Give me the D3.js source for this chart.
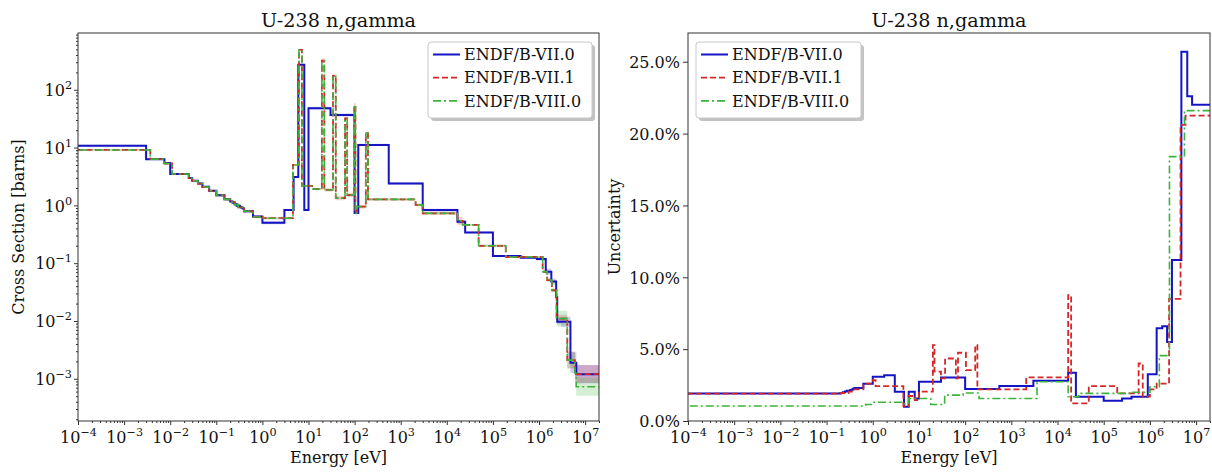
<!DOCTYPE html>
<html>
<head>
<meta charset="utf-8">
<script src="https://cdn.jsdelivr.net/npm/d3@7"></script>
<style>
  body { margin: 0; background: #fff; }
  svg text { font-family: "DejaVu Serif", serif; fill: #111; }
</style>
</head>
<body>
<div id="chart"></div>
<script>
// U-238 (n,gamma): group cross sections and relative uncertainties for three libraries

const seriesNames = ['ENDF/B-VII.0', 'ENDF/B-VII.1', 'ENDF/B-VIII.0'];
const chartTitle = 'U-238 n,gamma';

// cross section group edges [eV]
const xsEdges70 = [1e-5, 3e-3, 7.5e-3, 1e-2, 2.53e-2, 3e-2, 4e-2, 5e-2, 7e-2, 0.1, 0.15, 0.2, 0.225,
  0.25, 0.275, 0.325, 0.35, 0.375, 0.4, 0.625, 1.0, 1.77, 3.0, 4.75, 6.0, 8.1, 10, 30, 100, 120, 550,
  3000, 17000, 25000, 1e5, 4e5, 9e5, 1.4e6, 1.85e6, 2.354e6, 2.479e6, 3e6, 4.8e6, 6.434e6, 8.187e6, 2e7];
const xsEdgesNew = [1e-5, 3.7e-3, 7.5e-3, 1.1e-2, 2.53e-2, 3e-2, 4e-2, 5e-2, 7e-2, 0.1, 0.15, 0.2, 0.25,
  0.3, 0.4, 0.625, 1.0, 4.6, 6.2, 7.2, 12, 19.5, 22, 34, 39, 62, 69, 98, 104, 112, 175, 195, 2100,
  3000, 17000, 22000, 49000, 1.9e5, 1.2e6, 1.5e6, 1.9e6, 2.4e6, 4.1e6, 6e6, 6.4e6, 2e7];

// cross sections [barns]
const xs70 = [10.8, 6.3, 5.4, 3.5, 2.98, 2.68, 2.39, 2.1, 1.79, 1.5, 1.28, 1.17, 1.11, 1.06, 0.99,
  0.94, 0.91, 0.88, 0.79, 0.64, 0.5, 0.5, 0.83, 3.1, 270, 0.83, 48, 36.6, 0.74, 11.1, 2.4, 0.83,
  0.52, 0.34, 0.133, 0.124, 0.118, 0.071, 0.048, 0.026, 0.0097, 0.0097, 1.9e-3, 1.2e-3, 1.2e-3];
const xs71 = [9.1, 6.3, 5.3, 3.5, 2.95, 2.65, 2.38, 2.08, 1.78, 1.49, 1.27, 1.14, 1.03, 0.92, 0.79,
  0.63, 0.6, 5.0, 490, 2.17, 1.92, 318, 1.85, 174, 1.33, 32, 1.51, 54, 0.74, 0.95, 17.7, 1.27, 1.02,
  0.73, 0.54, 0.46, 0.2, 0.128, 0.071, 0.051, 0.034, 0.011, 2.1e-3, 1.25e-3, 1.2e-3];
const xs80 = [9.1, 6.3, 5.3, 3.5, 2.95, 2.65, 2.38, 2.08, 1.78, 1.49, 1.27, 1.14, 1.03, 0.92, 0.79,
  0.63, 0.6, 5.0, 490, 2.17, 1.92, 318, 1.85, 174, 1.33, 32, 1.51, 54, 0.74, 0.95, 17.7, 1.27, 1.02,
  0.73, 0.54, 0.46, 0.2, 0.128, 0.071, 0.051, 0.034, 0.011, 2.1e-3, 1.25e-3, 7.3e-4];

// uncertainty group edges [eV]
const uncEdges70 = [1e-5, 0.2, 0.225, 0.25, 0.275, 0.325, 0.35, 0.375, 0.4, 0.625, 1.0, 1.77, 3.0,
  4.75, 6.0, 8.1, 10, 30, 100, 550, 3000, 17000, 25000, 1e5, 2.5e5, 4e5, 9e5, 1.4e6, 1.85e6,
  2.354e6, 3e6, 4.8e6, 6.434e6, 8.187e6, 2e7];
const uncEdges71 = [1e-5, 0.2, 0.3, 0.4, 0.625, 1.0, 1.15, 4.6, 6.0, 8.1, 10, 20, 21.7, 30, 36.8, 63,
  70, 104, 165, 184, 2100, 17000, 19700, 47500, 1.96e5, 5.7e5, 7e5, 1.0e6, 1.4e6, 2.6e6, 4.6e6,
  5.9e6, 2e7];
const uncEdges80 = [1e-5, 0.7, 1.0, 4.6, 6.0, 18, 36, 90, 200, 3600, 17000, 29000, 4e5, 1.0e6,
  1.6e6, 2.65e6, 5.6e6, 2e7];

// relative uncertainties [%]
const unc70 = [1.92, 1.95, 2.0, 2.05, 2.1, 2.15, 2.2, 2.25, 2.3, 2.6, 3.08, 3.19, 2.04, 1.0, 2.04,
  1.57, 2.73, 3.03, 2.22, 2.43, 2.8, 3.36, 1.69, 1.41, 1.57, 1.69, 3.26, 6.46, 6.6, 5.5, 11.2,
  25.7, 22.6, 22.0];
const unc71 = [1.9, 1.95, 2.05, 2.2, 2.6, 2.85, 2.43, 1.04, 1.74, 1.46, 2.04, 5.28, 3.43, 2.96,
  4.35, 2.96, 4.75, 3.54, 5.28, 2.2, 3.03, 8.75, 1.23, 2.43, 1.92, 4.0, 1.69, 2.2, 2.6, 8.5, 20.6,
  21.25];
const unc80 = [1.04, 1.15, 1.3, 1.2, 1.57, 1.15, 1.8, 1.95, 1.57, 2.73, 1.69, 1.92, 2.0, 2.38, 4.55,
  18.4, 21.6];

// tick labels
const xTickPowers = [-4, -3, -2, -1, 0, 1, 2, 3, 4, 5, 6, 7];
const yTickPowers = [-3, -2, -1, 0, 1, 2];
const uncTicks = [0, 5, 10, 15, 20, 25];

const colors = ['#1414c4', '#d42828', '#3cb43c'];
const dashes = [null, '6,3', '8,3,2,3'];
const widths = [2, 1.8, 1.6];
const xsEdges = [xsEdges70, xsEdgesNew, xsEdgesNew];
const xsValues = [xs70, xs71, xs80];
const uncEdges = [uncEdges70, uncEdges71, uncEdges80];
const uncValues = [unc70, unc71, unc80];

const svg = d3.select('#chart').append('svg')
  .attr('width', 1212)
  .attr('height', 472);

const leftBox = { x0: 78, x1: 599, y0: 33, y1: 421 };
const rightBox = { x0: 688, x1: 1210, y0: 33, y1: 421 };

function stepPoints(edges, vals) {
  const pts = vals.map((v, i) => [edges[i], v]);
  pts.push([edges[edges.length - 1], vals[vals.length - 1]]);
  return pts;
}

function lookup(edges, vals, e) {
  const i = Math.max(0, Math.min(vals.length - 1, d3.bisectRight(edges, e) - 1));
  return vals[i];
}

function sciLabel(sel) {
  sel.each(function (d) {
    const p = Math.round(Math.log10(d));
    const t = d3.select(this).text(null);
    t.append('tspan').text('10');
    t.append('tspan').attr('dy', -7).style('font-size', '11.2px')
      .text(p < 0 ? '\u2212' + (-p) : String(p));
  });
}

function logMinors(lo, hi) {
  const out = [];
  for (let p = -5; p <= 8; p++) {
    for (let k = 2; k <= 9; k++) {
      const v = k * +('1e' + p);
      if (v >= lo && v <= hi) out.push(v);
    }
  }
  return out;
}

function frame(box, id) {
  const g = svg.append('g');
  svg.append('clipPath').attr('id', id)
    .append('rect')
    .attr('x', box.x0).attr('y', box.y0)
    .attr('width', box.x1 - box.x0).attr('height', box.y1 - box.y0);
  return g;
}

function drawXAxis(box, x) {
  const majors = xTickPowers.map(p => +('1e' + p));
  const [lo, hi] = x.domain();
  svg.append('g')
    .attr('transform', `translate(0,${box.y1})`)
    .attr('color', '#333')
    .call(d3.axisBottom(x).tickValues(logMinors(lo, hi)).tickSize(2).tickFormat(''))
    .call(a => a.select('.domain').remove());
  const ax = svg.append('g')
    .attr('transform', `translate(0,${box.y1})`)
    .attr('color', '#333')
    .call(d3.axisBottom(x).tickValues(majors).tickSize(4).tickPadding(6.5))
    .call(a => a.select('.domain').remove());
  ax.attr('font-size', null).attr('font-family', null);
  ax.selectAll('text').style('font-size', '16px').call(sciLabel);

  svg.append('text')
    .attr('x', (box.x0 + box.x1) / 2).attr('y', 463)
    .attr('text-anchor', 'middle').style('font-size', '16px')
    .text('Energy [eV]');
  svg.append('text')
    .attr('x', (box.x0 + box.x1) / 2).attr('y', 26.5)
    .attr('text-anchor', 'middle').style('font-size', '19.2px')
    .text(chartTitle);
}

function drawBorder(box) {
  svg.append('rect')
    .attr('x', box.x0).attr('y', box.y0)
    .attr('width', box.x1 - box.x0).attr('height', box.y1 - box.y0)
    .attr('fill', 'none').attr('stroke', '#333').attr('stroke-width', 1);
}

function drawLegend(x0, y0, w) {
  const h = 76;
  const g = svg.append('g');
  g.append('rect').attr('x', x0 + 3).attr('y', y0 + 3).attr('width', w).attr('height', h)
    .attr('rx', 3).attr('fill', '#888').attr('fill-opacity', 0.5);
  g.append('rect').attr('x', x0).attr('y', y0).attr('width', w).attr('height', h)
    .attr('rx', 3).attr('fill', '#fff').attr('stroke', '#c8c8c8');
  seriesNames.forEach((name, i) => {
    const yy = y0 + 12.5 + i * 23.2;
    g.append('line')
      .attr('x1', x0 + 5).attr('x2', x0 + 32).attr('y1', yy).attr('y2', yy)
      .attr('stroke', colors[i]).attr('stroke-width', widths[i])
      .attr('stroke-dasharray', dashes[i]);
    g.append('text')
      .attr('x', x0 + 36).attr('y', yy + 5.6)
      .style('font-size', '16px')
      .text(name);
  });
}

// ---------- left panel: cross section ----------
const xL = d3.scaleLog().domain([1e-4, 2e7]).range([leftBox.x0, leftBox.x1]);
const yL = d3.scaleLog().domain([1.86e-4, 960]).range([leftBox.y1, leftBox.y0]);

const gL = frame(leftBox, 'clipL');
const plotL = gL.append('g').attr('clip-path', 'url(#clipL)');

// uncertainty bands
xsValues.forEach((vals, s) => {
  const edges = xsEdges[s];
  const pts = stepPoints(edges, vals).map((d, i) => {
    const a = edges[Math.min(i, vals.length - 1)];
    const b = edges[Math.min(i + 1, edges.length - 1)];
    const u = lookup(uncEdges[s], uncValues[s], Math.sqrt(a * b)) / 100;
    return [d[0], d[1] / (1 + 2 * u), d[1] * (1 + 2 * u)];
  });
  plotL.append('path')
    .datum(pts)
    .attr('fill', colors[s]).attr('fill-opacity', 0.22)
    .attr('d', d3.area()
      .x(d => xL(d[0])).y0(d => yL(d[1])).y1(d => yL(d[2]))
      .curve(d3.curveStepAfter));
});

xsValues.forEach((vals, s) => {
  plotL.append('path')
    .datum(stepPoints(xsEdges[s], vals))
    .attr('fill', 'none')
    .attr('stroke', colors[s]).attr('stroke-width', widths[s])
    .attr('stroke-dasharray', dashes[s])
    .attr('d', d3.line().x(d => xL(d[0])).y(d => yL(d[1])).curve(d3.curveStepAfter));
});

svg.append('g')
  .attr('transform', `translate(${leftBox.x0},0)`)
  .attr('color', '#333')
  .call(d3.axisLeft(yL).tickValues(logMinors(...yL.domain())).tickSize(2).tickFormat(''))
  .call(a => a.select('.domain').remove());
const yAxL = svg.append('g')
  .attr('transform', `translate(${leftBox.x0},0)`)
  .attr('color', '#333')
  .call(d3.axisLeft(yL).tickValues(yTickPowers.map(p => +('1e' + p))).tickSize(4).tickPadding(2))
  .call(a => a.select('.domain').remove());
yAxL.attr('font-size', null).attr('font-family', null);
yAxL.selectAll('text').style('font-size', '16px').attr('dy', '0.36em').call(sciLabel);

svg.append('text')
  .attr('transform', `translate(24,${(leftBox.y0 + leftBox.y1) / 2}) rotate(-90)`)
  .attr('text-anchor', 'middle').style('font-size', '16px')
  .text('Cross Section [barns]');

drawXAxis(leftBox, xL);
drawBorder(leftBox);
drawLegend(428, 42, 164);

// ---------- right panel: uncertainty ----------
const xR = d3.scaleLog().domain([1e-4, 2e7]).range([rightBox.x0, rightBox.x1]);
const yR = d3.scaleLinear().domain([0, 27]).range([rightBox.y1, rightBox.y0]);

const gR = frame(rightBox, 'clipR');
const plotR = gR.append('g').attr('clip-path', 'url(#clipR)');

uncValues.forEach((vals, s) => {
  plotR.append('path')
    .datum(stepPoints(uncEdges[s], vals))
    .attr('fill', 'none')
    .attr('stroke', colors[s]).attr('stroke-width', widths[s])
    .attr('stroke-dasharray', dashes[s])
    .attr('d', d3.line().x(d => xR(d[0])).y(d => yR(d[1])).curve(d3.curveStepAfter));
});

const yAxR = svg.append('g')
  .attr('transform', `translate(${rightBox.x0},0)`)
  .attr('color', '#333')
  .call(d3.axisLeft(yR).tickValues(uncTicks).tickSize(5).tickPadding(3)
    .tickFormat(d => d.toFixed(1) + '%'))
  .call(a => a.select('.domain').remove());
yAxR.attr('font-size', null).attr('font-family', null);
yAxR.selectAll('text').style('font-size', '16px').attr('dy', '0.36em');

svg.append('text')
  .attr('transform', `translate(620,${(rightBox.y0 + rightBox.y1) / 2}) rotate(-90)`)
  .attr('text-anchor', 'middle').style('font-size', '16px')
  .text('Uncertainty');

drawXAxis(rightBox, xR);
drawBorder(rightBox);
drawLegend(696, 42, 165);
</script>
</body>
</html>
